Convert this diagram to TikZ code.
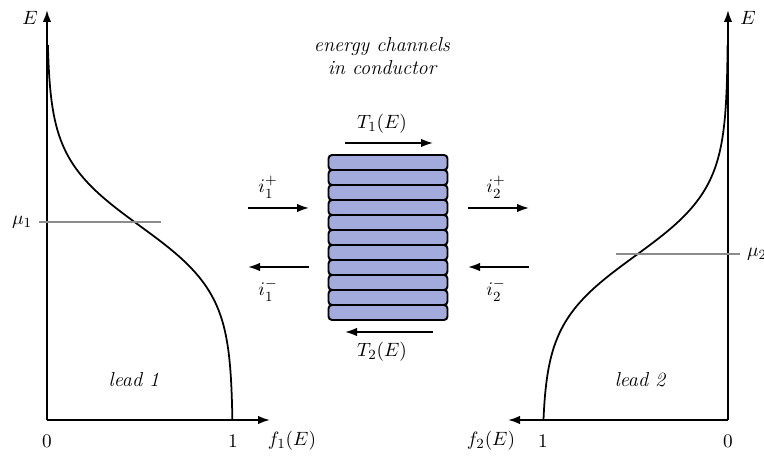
\documentclass[tikz,border=0pt]{standalone}
\usepackage{amsmath,amssymb}
\usepackage{xcolor}
\usepackage{tikz}
\usetikzlibrary{arrows.meta,calc}
\definecolor{chanfill}{HTML}{A3AADC}
\definecolor{mugrey}{HTML}{8C8C8C}

\begin{document}
\begin{tikzpicture}[
  x=0.02cm, y=-0.02cm,
  every node/.style={font=\fontsize{11}{13}\selectfont},
  ax/.style={line width=1.1pt, -{Latex[length=2.4mm,width=1.7mm]}},
  cur/.style={line width=1pt, -{Latex[length=2.4mm,width=1.7mm]}},
  fd/.style={line width=1pt},
  mu/.style={mugrey, line width=0.9pt},
  chan/.style={draw=black, line width=1.1pt, fill=chanfill, rounded corners=2pt, minimum width=2.38cm, minimum height=0.3cm, inner sep=0pt},
  lbl/.style={font=\fontsize{11.5}{13.5}\selectfont\itshape, align=center}
]
\useasboundingbox (0,0) rectangle (764,459);
% lead 1
\coordinate (o1) at (47,420);
\coordinate (e1) at (47,10);
\coordinate (f1) at (270,420);
\draw[ax] (o1) -- (e1);
\draw[ax] (o1) -- (f1);
\draw[fd] plot[domain=420:45, samples=120, smooth] ({47+186/(1+exp((226-\x)/34))}, \x);
\coordinate (m1a) at (39,222);
\coordinate (m1b) at (161,222);
\draw[mu] (m1a) -- (m1b);
\node (E1) at (30,18) {$E$};
\node (mu1) at (22,222) {$\mu_1$};
\node (z1) at (47,441) {$0$};
\node (u1) at (233,441) {$1$};
\node (fl1) at (292,441) {$f_1(E)$};
\node[lbl] (lead1) at (134,380) {lead 1};
% lead 2
\coordinate (o2) at (728,420);
\coordinate (e2) at (728,10);
\coordinate (f2) at (508,420);
\draw[ax] (o2) -- (e2);
\draw[ax] (o2) -- (f2);
\draw[fd] plot[domain=420:45, samples=120, smooth] ({728-186/(1+exp((256-\x)/34))}, \x);
\coordinate (m2a) at (616,254);
\coordinate (m2b) at (740,254);
\draw[mu] (m2a) -- (m2b);
\node (E2) at (748,18) {$E$};
\node (mu2) at (757,254) {$\mu_2$};
\node (z2) at (728,441) {$0$};
\node (u2) at (543,441) {$1$};
\node (fl2) at (491,441) {$f_2(E)$};
\node[lbl] (lead2) at (640,380) {lead 2};
% conductor
\node[lbl] (title) at (382,56) {energy channels\\in conductor};
\foreach \k in {0,...,10}
  \node[chan] (c\k) at (388,162.5+15*\k) {};
\coordinate (t1a) at (345,143);
\coordinate (t1b) at (433,143);
\draw[cur] (t1a) -- (t1b);
\node (T1) at (382,124) {$T_1(E)$};
\coordinate (t2a) at (433,332);
\coordinate (t2b) at (345,332);
\draw[cur] (t2a) -- (t2b);
\node (T2) at (382,352) {$T_2(E)$};
% currents
\coordinate (p1a) at (248,208);
\coordinate (p1b) at (309,208);
\draw[cur] (p1a) -- (p1b);
\node (ip1) at (268,187) {$i_1^+$};
\coordinate (n1a) at (309,267);
\coordinate (n1b) at (248,267);
\draw[cur] (n1a) -- (n1b);
\node (in1) at (268,290) {$i_1^-$};
\coordinate (p2a) at (468,208);
\coordinate (p2b) at (529,208);
\draw[cur] (p2a) -- (p2b);
\node (ip2) at (496,187) {$i_2^+$};
\coordinate (n2a) at (529,267);
\coordinate (n2b) at (468,267);
\draw[cur] (n2a) -- (n2b);
\node (in2) at (496,290) {$i_2^-$};
\end{tikzpicture}
\end{document}
